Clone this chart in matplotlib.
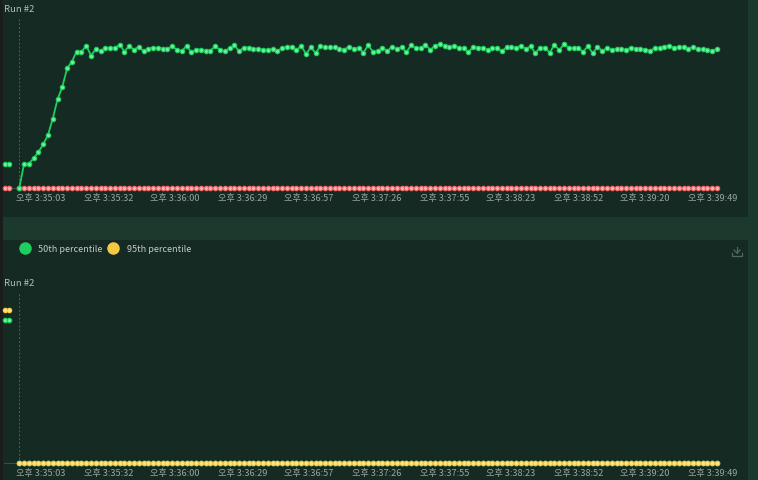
import numpy as np
import matplotlib
matplotlib.use("Agg")
import matplotlib.pyplot as plt
from matplotlib.lines import Line2D
from matplotlib.patches import Rectangle
import matplotlib.transforms as mtransforms

plt.rcParams['font.family'] = ['Noto Sans CJK KR', 'DejaVu Sans']

# ---------------- data ----------------
tick_labels = ['오후 3:35:03', '오후 3:35:32', '오후 3:36:00', '오후 3:36:29', '오후 3:36:57',
               '오후 3:37:26', '오후 3:37:55', '오후 3:38:23', '오후 3:38:52', '오후 3:39:20',
               '오후 3:39:49']
tick_seconds = [0, 29, 57, 86, 114, 143, 172, 200, 229, 257, 286]

sample_start = -9.23   # seconds relative to 3:35:03
sample_step = 2.0336   # seconds between samples

top_green = [0, 24.3, 24.3, 29.7, 36, 43.7, 53, 69.3, 88.7, 101,
             119.7, 126.3, 136.5, 136, 142.5, 132.5, 138.7, 137, 140, 140,
             140, 143.5, 136.5, 142.2, 138.3, 141.2, 137, 139.5, 140.5, 139.8,
             139.5, 139.3, 141.7, 138, 136.8, 142.2, 135.8, 138.5, 138.5, 137.3,
             137.5, 141.8, 138.2, 136.8, 139.8, 142.8, 136.8, 140.5, 140.5, 138.7,
             139.3, 138.3, 138.3, 139, 136.7, 140, 141, 141.3, 137.7, 142.3,
             134, 140.7, 135, 141.7, 140.7, 140.7, 140.7, 139.3, 138.3, 141.3,
             138.7, 140.3, 135.3, 142.7, 136.3, 137, 140.3, 137, 141.3, 139,
             140.7, 135.7, 143, 139.7, 140, 143, 138.3, 142, 143.7, 141.8,
             140.7, 142, 140.3, 140, 135.7, 141.3, 140.3, 140.3, 138, 140.3,
             139.7, 137, 140.7, 141, 140.3, 142.3, 139, 141.7, 135, 140.3,
             140.3, 135.3, 143.3, 137.7, 144, 140, 139.7, 140, 136.3, 142,
             134.7, 141, 137.3, 139.7, 138.3, 138.8, 138.8, 138.3, 140.2, 139.2,
             139.3, 138.3, 137.3, 139.7, 140.3, 141.3, 142.3, 140.3, 141.3, 141.3,
             139.3, 141, 138.7, 139, 138, 137, 139]
n = len(top_green)
top_red = [0] * n
bottom_green = [0] * n
bottom_yellow = [0] * n

# values shown by the small marks at the left edge of each panel
top_edge = {'green': 24.3, 'red': 0}
bottom_edge = {'yellow': 153, 'green': 143}

legend_labels = ['50th percentile', '95th percentile']
panel_title = 'Run #2'

# ---------------- styles ----------------
W, H = 758, 481
BAND = '#1b392c'
PANEL = '#152a22'
EDGE = '#1b1d1c'
GREEN = '#1ccf5f'
GREEN_FACE = '#72f0a0'
RED = '#f06a6a'
RED_FACE = '#ffb3b3'
YELLOW = '#f5c842'
YELLOW_FACE = '#ffe89a'
TICK_C = '#9aa6a0'
TITLE_C = '#b5bdb9'

t = sample_start + sample_step * np.arange(n)

fig = plt.figure(figsize=(W / 100, H / 100), dpi=100, facecolor=BAND)

def fx(px):
    return px / W

def fy(py):
    return 1 - py / H

# panels
for rect in [Rectangle((fx(3), fy(218)), fx(745), 218 / H),
             Rectangle((fx(3), 0), fx(745), 240 / H),
             Rectangle((0, 0), fx(3), 1)]:
    rect.set_transform(fig.transFigure)
    rect.set_edgecolor('none')
    rect.set_zorder(-10)
    fig.patches.append(rect)
fig.patches[0].set_facecolor(PANEL)
fig.patches[1].set_facecolor(PANEL)
fig.patches[2].set_facecolor(EDGE)

x_left, x_right = 4, 745
px_per_s = 2.3497
tick0_px = 41
xlim = ((x_left - tick0_px) / px_per_s, (x_right - tick0_px) / px_per_s)


def make_axes(top_px, zero_px):
    ax = fig.add_axes([fx(x_left), fy(zero_px), fx(x_right - x_left), (zero_px - top_px) / H])
    ax.set_facecolor('none')
    ax.set_zorder(1)
    ax.set_xlim(*xlim)
    ax.set_ylim(0, zero_px - top_px)
    for s in ['top', 'right', 'left']:
        ax.spines[s].set_visible(False)
    ax.spines['bottom'].set_color('#3c4d45')
    ax.spines['bottom'].set_linewidth(0.8)
    ax.spines['bottom'].set_bounds(xlim[0], t[-1])
    ax.set_yticks([])
    ax.set_xticks(tick_seconds)
    ax.set_xticklabels(tick_labels)
    ax.tick_params(axis='x', length=0, pad=3.8, labelsize=6.6, labelcolor=TICK_C)
    ax.axvline(t[0], color='#4d6057', lw=0.7, ls=(0, (2, 2)), zorder=1)
    return ax


def series(ax, y, color, face, z):
    ax.plot(t, y, color=color, lw=1.3, marker='o', markersize=3.1,
            markerfacecolor=face, markeredgecolor=color, markeredgewidth=0.9,
            clip_on=False, zorder=z)


def edge_marks(ax, value, color, face, z):
    tr = mtransforms.blended_transform_factory(fig.transFigure, ax.transData)
    ax.plot([fx(5), fx(9)], [value, value], transform=tr, color=color, lw=1.2,
            marker='o', markersize=3.1, markerfacecolor=face, markeredgecolor=color,
            markeredgewidth=0.9, clip_on=False, zorder=z)


# top panel
ax1 = make_axes(18, 189)
series(ax1, top_red, RED, RED_FACE, 3)
series(ax1, top_green, GREEN, GREEN_FACE, 4)
edge_marks(ax1, top_edge['green'], GREEN, GREEN_FACE, 4)
edge_marks(ax1, top_edge['red'], RED, RED_FACE, 3)
fig.text(fx(4), fy(9), panel_title, fontsize=6.8, color=TITLE_C, va='center', ha='left')

# bottom panel
ax2 = make_axes(293, 464)
series(ax2, bottom_green, GREEN, GREEN_FACE, 3)
series(ax2, bottom_yellow, YELLOW, YELLOW_FACE, 4)
edge_marks(ax2, bottom_edge['yellow'], YELLOW, YELLOW_FACE, 4)
edge_marks(ax2, bottom_edge['green'], GREEN, GREEN_FACE, 3)
fig.text(fx(4), fy(284), panel_title, fontsize=6.8, color=TITLE_C, va='center', ha='left')

# legend
handles = [Line2D([], [], marker='o', ls='none', color=GREEN, markersize=8),
           Line2D([], [], marker='o', ls='none', color=YELLOW, markersize=8)]
fig.legend(handles, legend_labels, loc='center left', bbox_to_anchor=(fx(21), fy(250)),
           ncol=2, frameon=False, fontsize=6.5, labelcolor='#c3cbc7',
           handlelength=0.8, handletextpad=1.1, columnspacing=0.8,
           borderpad=0, borderaxespad=0)

# download icon
ic = '#56665e'
cx, cy = 737, 253
fig.add_artist(Line2D([fx(cx), fx(cx)], [fy(cy - 5), fy(cy + 1)], color=ic, lw=0.9))
fig.add_artist(Line2D([fx(cx - 3), fx(cx), fx(cx + 3)], [fy(cy - 2), fy(cy + 1), fy(cy - 2)],
                      color=ic, lw=0.9))
fig.add_artist(Line2D([fx(cx - 5), fx(cx - 5), fx(cx + 5), fx(cx + 5)],
                      [fy(cy + 1), fy(cy + 4), fy(cy + 4), fy(cy + 1)], color=ic, lw=0.9))

fig.savefig('out.png', dpi=100, facecolor=BAND)
